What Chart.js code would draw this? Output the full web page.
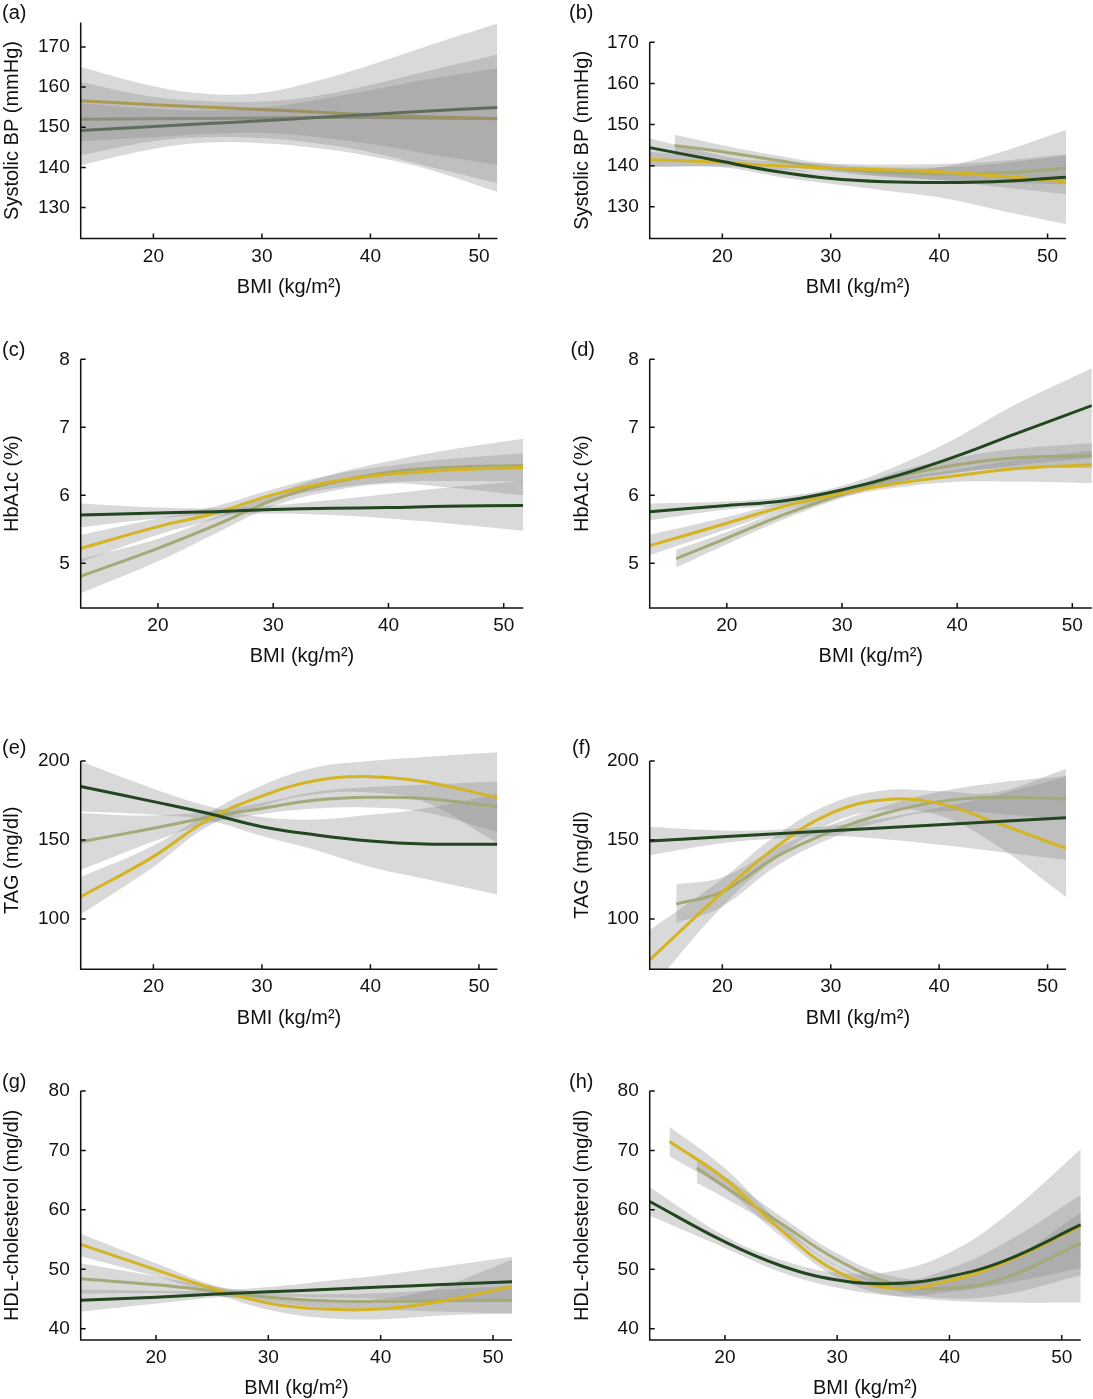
<!DOCTYPE html>
<html>
<head>
<meta charset="utf-8">
<script src="https://cdn.jsdelivr.net/npm/chart.js@4.4.1/dist/chart.umd.min.js"></script>
<style>
html,body{margin:0;padding:0;background:#fff;}
body{width:1093px;height:1399px;position:relative;overflow:hidden;}
canvas{position:absolute;}
</style>
</head>
<body>
<canvas id="ca"></canvas><canvas id="cb"></canvas>
<canvas id="cc"></canvas><canvas id="cd"></canvas>
<canvas id="ce"></canvas><canvas id="cf"></canvas>
<canvas id="cg"></canvas><canvas id="ch"></canvas>
<script>
// ---------------- data ----------------
const X_TICKS = [20, 30, 40, 50];
const BP_TICKS = [130, 140, 150, 160, 170];
const HBA1C_TICKS = [5, 6, 7, 8];
const TAG_TICKS = [100, 150, 200];
const HDL_TICKS = [40, 50, 60, 70, 80];
const BMI = [13.3, 20, 25, 30, 35, 40, 45, 51.7];

// (a) Systolic BP
const A_GOLD     = [156.6, 155.6, 155.0, 154.4, 153.8, 153.1, 152.6, 152.1];
const A_OLIVE    = [152.0, 152.1, 152.2, 152.3, 152.4, 152.4, 152.3, 152.2];
const A_GREEN    = [149.2, 150.2, 150.9, 151.6, 152.4, 153.2, 154.0, 154.9];
const A_GOLD_LO  = [140.6, 144.6, 146.2, 146.0, 144.8, 142.8, 139.8, 133.9];
const A_GOLD_HI  = [165.0, 160.2, 158.3, 158.6, 161.5, 165.5, 170.0, 175.8];
const A_OLIVE_LO = [143.0, 146.5, 147.5, 147.3, 146.0, 143.8, 140.5, 136.1];
const A_OLIVE_HI = [161.2, 157.6, 156.5, 156.4, 157.8, 160.5, 163.8, 168.1];
const A_GREEN_LO = [146.5, 147.5, 148.3, 148.6, 147.6, 145.8, 143.5, 140.6];
const A_GREEN_HI = [156.0, 154.6, 154.2, 154.9, 156.8, 159.2, 161.8, 164.7];

// (b) Systolic BP
const B_GREEN    = [144.4, 141.0, 138.6, 136.9, 136.1, 135.9, 136.1, 137.2];
const B_GOLD     = [141.5, 140.8, 140.0, 139.4, 139.0, 138.5, 137.6, 136.1];
const B_OLIVE_BMI = [15.6, 20, 25, 30, 35, 40, 45, 51.7];
const B_OLIVE    = [144.9, 143.4, 141.3, 139.4, 138.4, 138.0, 138.2, 139.3];
const B_GREEN_LO = [139.8, 139.6, 137.4, 135.6, 134.0, 132.3, 129.5, 125.8];
const B_GREEN_HI = [146.6, 142.4, 139.8, 138.2, 138.3, 139.6, 142.8, 148.7];
const B_GOLD_LO  = [139.7, 139.8, 139.0, 138.3, 137.5, 136.5, 135.0, 133.1];
const B_GOLD_HI  = [143.4, 141.8, 141.0, 140.5, 140.3, 140.4, 141.0, 142.8];
const B_OLIVE_LO = [142.6, 141.8, 140.2, 138.6, 137.3, 136.5, 136.0, 135.5];
const B_OLIVE_HI = [147.5, 145.0, 142.5, 140.4, 139.6, 139.6, 140.4, 142.5];

// (c) HbA1c
const C_GREEN    = [5.71, 5.74, 5.76, 5.79, 5.81, 5.82, 5.84, 5.85];
const C_GOLD     = [5.22, 5.54, 5.74, 6.01, 6.20, 6.31, 6.37, 6.41];
const C_OLIVE    = [4.81, 5.22, 5.56, 5.93, 6.18, 6.34, 6.41, 6.44];
const C_GREEN_LO = [5.53, 5.66, 5.71, 5.73, 5.71, 5.66, 5.59, 5.48];
const C_GREEN_HI = [5.88, 5.82, 5.81, 5.85, 5.93, 6.02, 6.11, 6.21];
const C_GOLD_LO  = [5.02, 5.42, 5.65, 5.93, 6.10, 6.19, 6.21, 6.20];
const C_GOLD_HI  = [5.42, 5.66, 5.84, 6.09, 6.30, 6.43, 6.53, 6.62];
const C_OLIVE_LO = [4.56, 5.03, 5.44, 5.84, 6.06, 6.17, 6.12, 6.00];
const C_OLIVE_HI = [5.06, 5.36, 5.68, 6.02, 6.30, 6.50, 6.66, 6.83];

// (d) HbA1c
const D_GREEN    = [5.76, 5.85, 5.92, 6.08, 6.30, 6.58, 6.90, 7.32];
const D_GOLD     = [5.26, 5.59, 5.84, 6.03, 6.18, 6.29, 6.39, 6.45];
const D_OLIVE_BMI = [15.6, 20, 25, 30, 35, 40, 45, 51.7];
const D_OLIVE    = [5.07, 5.37, 5.72, 6.01, 6.28, 6.45, 6.55, 6.58];
const D_GREEN_LO = [5.63, 5.79, 5.86, 6.02, 6.20, 6.33, 6.44, 6.55];
const D_GREEN_HI = [5.88, 5.91, 5.98, 6.14, 6.45, 6.85, 7.33, 7.87];
const D_GOLD_LO  = [5.12, 5.50, 5.78, 5.98, 6.12, 6.20, 6.20, 6.18];
const D_GOLD_HI  = [5.42, 5.68, 5.90, 6.08, 6.25, 6.38, 6.52, 6.66];
const D_OLIVE_LO = [4.94, 5.28, 5.65, 5.96, 6.20, 6.34, 6.40, 6.40];
const D_OLIVE_HI = [5.20, 5.46, 5.79, 6.06, 6.36, 6.55, 6.68, 6.77];

// (e) TAG
const E_GREEN    = [183.8, 174.3, 166.9, 158.4, 153.2, 149.4, 147.5, 147.3];
const E_GOLD     = [114.1, 139.5, 162.7, 177.8, 187.6, 190.1, 186.9, 176.8];
const E_OLIVE    = [148.9, 157.4, 164.3, 170.0, 175.3, 177.0, 176.2, 171.1];
const E_GREEN_LO = [168.0, 166.0, 162.5, 152.5, 143.5, 133.0, 125.5, 115.6];
const E_GREEN_HI = [199.6, 182.5, 171.5, 164.5, 163.0, 166.0, 170.0, 179.0];
const E_GOLD_LO  = [103.0, 133.0, 158.5, 171.5, 179.0, 180.0, 174.0, 148.0];
const E_GOLD_HI  = [126.5, 146.5, 167.0, 184.5, 196.0, 200.0, 202.5, 205.5];
const E_OLIVE_LO = [131.0, 149.0, 160.5, 166.5, 170.0, 170.5, 167.5, 155.0];
const E_OLIVE_HI = [167.0, 165.5, 168.0, 173.5, 180.5, 183.5, 185.0, 187.0];

// (f) TAG
const F_GREEN    = [149.4, 152.0, 153.9, 155.8, 157.7, 159.6, 161.5, 164.1];
const F_GOLD     = [74.1, 116.9, 145.8, 166.9, 175.5, 173.2, 161.6, 144.7];
const F_OLIVE_BMI = [15.75, 20, 25, 30, 35, 40, 45, 51.7];
const F_OLIVE    = [109.5, 117.3, 139.5, 155.3, 166.9, 174.3, 177.0, 176.0];
const F_GREEN_LO = [140.5, 148.0, 151.0, 152.5, 150.5, 147.0, 143.0, 137.3];
const F_GREEN_HI = [158.4, 156.0, 156.5, 159.0, 164.0, 170.5, 178.0, 190.0];
const F_GOLD_LO  = [55.0, 108.0, 138.5, 160.5, 169.0, 165.5, 148.0, 114.0];
const F_GOLD_HI  = [93.0, 125.5, 153.0, 173.0, 181.5, 181.0, 180.0, 195.0];
const F_OLIVE_LO = [97.5, 108.0, 133.5, 151.0, 162.0, 168.0, 167.0, 163.0];
const F_OLIVE_HI = [122.0, 126.5, 145.0, 159.5, 171.5, 180.5, 186.0, 190.5];

// (g) HDL-cholesterol
const G_GREEN    = [44.8, 45.3, 45.8, 46.2, 46.6, 47.0, 47.4, 47.9];
const G_GOLD     = [54.2, 49.9, 46.8, 44.3, 43.3, 43.3, 44.5, 47.1];
const G_OLIVE    = [48.4, 47.4, 46.4, 45.3, 44.7, 44.6, 44.7, 44.8];
const G_GREEN_LO = [42.9, 44.2, 45.2, 45.4, 45.2, 45.0, 44.8, 44.5];
const G_GREEN_HI = [46.6, 46.4, 46.4, 47.0, 48.0, 49.0, 50.3, 52.1];
const G_GOLD_LO  = [52.2, 48.8, 46.0, 43.2, 41.8, 41.6, 42.2, 42.6];
const G_GOLD_HI  = [56.0, 51.0, 47.4, 45.4, 44.8, 45.0, 46.8, 51.6];
const G_OLIVE_LO = [45.9, 46.0, 45.6, 44.5, 43.6, 43.2, 42.9, 42.5];
const G_OLIVE_HI = [51.0, 48.8, 47.2, 46.1, 45.8, 46.0, 46.5, 47.2];

// (h) HDL-cholesterol
const H_GREEN    = [61.4, 54.6, 50.6, 48.2, 47.6, 48.8, 51.5, 57.5];
const H_GOLD_BMI = [15.06, 20, 25, 30, 35, 40, 45, 51.7];
const H_GOLD     = [71.5, 65.2, 56.6, 49.6, 46.8, 48.1, 51.2, 57.3];
const H_OLIVE_BMI = [17.5, 20, 25, 30, 35, 40, 45, 51.7];
const H_OLIVE    = [67.0, 63.9, 57.7, 51.6, 47.6, 46.8, 48.6, 54.4];
const H_GREEN_LO = [59.0, 53.6, 49.5, 46.9, 45.5, 44.7, 44.4, 44.4];
const H_GREEN_HI = [63.8, 55.6, 51.6, 49.4, 49.7, 52.8, 59.0, 70.2];
const H_GOLD_LO  = [69.0, 63.5, 55.5, 48.6, 45.6, 46.2, 47.6, 50.2];
const H_GOLD_HI  = [74.0, 67.0, 57.7, 50.6, 48.0, 50.1, 54.5, 62.5];
const H_OLIVE_LO = [64.5, 62.0, 56.5, 50.5, 46.6, 45.1, 45.8, 49.0];
const H_OLIVE_HI = [68.5, 65.6, 58.9, 52.7, 48.8, 48.5, 51.2, 59.5];

// ---------------- style ----------------
const FONT = '"Liberation Sans", Arial, Helvetica, sans-serif';
const TICK_SIZE = 19, TITLE_SIZE = 20, LABEL_SIZE = 20;
const GOLD = '#d5b421', OLIVE = '#a4a977', GREEN = '#22461f';
const BAND = 'rgba(128,128,128,0.3)';
const X_TITLE = 'BMI (kg/m²)';

function S(color, x, y, lo, hi){ return {color, x, y, lo, hi}; }

const PANELS = [
  {id:'ca', label:'(a)', yTitle:'Systolic BP (mmHg)', yTicks:BP_TICKS, yMin:122.3, yMax:176.1, axisTop:176.1, bandsOver:true,
   series:[S(GREEN,BMI,A_GREEN,A_GREEN_LO,A_GREEN_HI), S(GOLD,BMI,A_GOLD,A_GOLD_LO,A_GOLD_HI), S(OLIVE,BMI,A_OLIVE,A_OLIVE_LO,A_OLIVE_HI)],
   geo:{L:0,T:0,W:550,H:310,axL:80.7,axR:497.4,axBot:238.5,yMaxPix:17.3,yTitleX:12.3,xTitleY:287.8,labX:2,labY:13.3}},
  {id:'cb', label:'(b)', yTitle:'Systolic BP (mmHg)', yTicks:BP_TICKS, yMin:122.3, yMax:170, axisTop:170,
   series:[S(GREEN,BMI,B_GREEN,B_GREEN_LO,B_GREEN_HI), S(GOLD,BMI,B_GOLD,B_GOLD_LO,B_GOLD_HI), S(OLIVE,B_OLIVE_BMI,B_OLIVE,B_OLIVE_LO,B_OLIVE_HI)],
   geo:{L:550,T:0,W:543,H:310,axL:649.7,axR:1066,axBot:238.5,yMaxPix:42.3,yTitleX:582.5,xTitleY:287.3,labX:569,labY:13.3}},
  {id:'cc', label:'(c)', yTitle:'HbA1c (%)', yTicks:HBA1C_TICKS, yMin:4.343, yMax:8, axisTop:8,
   series:[S(GREEN,BMI,C_GREEN,C_GREEN_LO,C_GREEN_HI), S(GOLD,BMI,C_GOLD,C_GOLD_LO,C_GOLD_HI), S(OLIVE,BMI,C_OLIVE,C_OLIVE_LO,C_OLIVE_HI)],
   geo:{L:0,T:320,W:550,H:360,axL:80.7,axR:523.3,axBot:608,yMaxPix:359.3,yTitleX:12.3,xTitleY:656.7,labX:2,labY:350}},
  {id:'cd', label:'(d)', yTitle:'HbA1c (%)', yTicks:HBA1C_TICKS, yMin:4.343, yMax:8, axisTop:8,
   series:[S(GREEN,BMI,D_GREEN,D_GREEN_LO,D_GREEN_HI), S(GOLD,BMI,D_GOLD,D_GOLD_LO,D_GOLD_HI), S(OLIVE,D_OLIVE_BMI,D_OLIVE,D_OLIVE_LO,D_OLIVE_HI)],
   geo:{L:550,T:320,W:543,H:360,axL:649.7,axR:1091.9,axBot:608,yMaxPix:359.3,yTitleX:582.5,xTitleY:656.7,labX:570.5,labY:350}},
  {id:'ce', label:'(e)', yTitle:'TAG (mg/dl)', yTicks:TAG_TICKS, yMin:68.2, yMax:206, axisTop:200,
   series:[S(GREEN,BMI,E_GREEN,E_GREEN_LO,E_GREEN_HI), S(GOLD,BMI,E_GOLD,E_GOLD_LO,E_GOLD_HI), S(OLIVE,BMI,E_OLIVE,E_OLIVE_LO,E_OLIVE_HI)],
   geo:{L:0,T:690,W:550,H:350,axL:80.7,axR:497.4,axBot:969.3,yMaxPix:751.5,yTitleX:12.3,xTitleY:1018.3,labX:2,labY:748.3}},
  {id:'cf', label:'(f)', yTitle:'TAG (mg/dl)', yTicks:TAG_TICKS, yMin:68.2, yMax:200, axisTop:200,
   series:[S(GREEN,BMI,F_GREEN,F_GREEN_LO,F_GREEN_HI), S(GOLD,BMI,F_GOLD,F_GOLD_LO,F_GOLD_HI), S(OLIVE,F_OLIVE_BMI,F_OLIVE,F_OLIVE_LO,F_OLIVE_HI)],
   geo:{L:550,T:690,W:543,H:350,axL:649.7,axR:1066,axBot:969.3,yMaxPix:761,yTitleX:582.5,xTitleY:1018.3,labX:572,labY:748.3}},
  {id:'cg', label:'(g)', yTitle:'HDL-cholesterol (mg/dl)', yTicks:HDL_TICKS, yMin:38.1, yMax:80, axisTop:80,
   series:[S(GREEN,BMI,G_GREEN,G_GREEN_LO,G_GREEN_HI), S(GOLD,BMI,G_GOLD,G_GOLD_LO,G_GOLD_HI), S(OLIVE,BMI,G_OLIVE,G_OLIVE_LO,G_OLIVE_HI)],
   geo:{L:0,T:1050,W:550,H:352,axL:80.7,axR:512.1,axBot:1340,yMaxPix:1091,yTitleX:12.3,xTitleY:1388.3,labX:2,labY:1082.3}},
  {id:'ch', label:'(h)', yTitle:'HDL-cholesterol (mg/dl)', yTicks:HDL_TICKS, yMin:38.1, yMax:80, axisTop:80,
   series:[S(GREEN,BMI,H_GREEN,H_GREEN_LO,H_GREEN_HI), S(GOLD,H_GOLD_BMI,H_GOLD,H_GOLD_LO,H_GOLD_HI), S(OLIVE,H_OLIVE_BMI,H_OLIVE,H_OLIVE_LO,H_OLIVE_HI)],
   geo:{L:550,T:1050,W:543,H:352,axL:649.7,axR:1080.8,axBot:1340,yMaxPix:1091,yTitleX:582.5,xTitleY:1388.3,labX:569,labY:1082}}
];

const X_MIN = 13.3, X_MAX = 51.7;

function pts(xs, ys){ return xs.map((x, i) => ({x: x, y: ys[i]})); }

function buildDatasets(p){
  const lines = [], bands = [];
  p.series.forEach(s => {
    lines.push({data: pts(s.x, s.y), borderColor: s.color, borderWidth: 3, fill: false,
      pointRadius: 0, tension: 0.4, borderCapStyle: 'butt'});
    bands.push({data: pts(s.x, s.hi), borderColor: 'transparent', borderWidth: 0,
      backgroundColor: BAND, fill: '+1', pointRadius: 0, tension: 0.4});
    bands.push({data: pts(s.x, s.lo), borderColor: 'transparent', borderWidth: 0,
      fill: false, pointRadius: 0, tension: 0.4});
  });
  return p.bandsOver ? bands.concat(lines) : lines.concat(bands);
}

const axesPlugin = {
  id: 'axesPlugin',
  afterDraw(chart, args, o) {
    const {ctx, chartArea: a} = chart;
    const x = chart.scales.x, y = chart.scales.y;
    ctx.save();
    ctx.strokeStyle = '#111';
    ctx.lineWidth = 1.5;
    ctx.beginPath();
    ctx.moveTo(a.left - 0.75, a.bottom);
    ctx.lineTo(a.right, a.bottom);
    ctx.moveTo(a.left, a.bottom);
    ctx.lineTo(a.left, y.getPixelForValue(o.axisTop));
    X_TICKS.forEach(v => { const px = x.getPixelForValue(v); ctx.moveTo(px, a.bottom); ctx.lineTo(px, a.bottom - 5); });
    o.yTicks.forEach(v => { const py = y.getPixelForValue(v); ctx.moveTo(a.left, py); ctx.lineTo(a.left + 5, py); });
    ctx.stroke();
    ctx.fillStyle = '#111';
    ctx.font = LABEL_SIZE + 'px ' + FONT;
    ctx.textAlign = 'left';
    ctx.textBaseline = 'middle';
    ctx.fillText(o.label, o.labX, o.labY);
    ctx.restore();
  }
};

PANELS.forEach(p => {
  const g = p.geo;
  const cv = document.getElementById(p.id);
  cv.style.left = g.L + 'px';
  cv.style.top = g.T + 'px';
  cv.width = g.W; cv.height = g.H;
  cv.style.width = g.W + 'px'; cv.style.height = g.H + 'px';
  const half = TITLE_SIZE * 1.2 / 2;
  const padLeft = Math.max(0, g.yTitleX - g.L - half);
  const padTop = g.yMaxPix - g.T;
  const padRight = g.L + g.W - g.axR;
  const padBottom = Math.max(0, g.T + g.H - (g.xTitleY + half));
  const yWidth = g.axL - g.L - padLeft;
  const xHeight = g.T + g.H - padBottom - g.axBot;
  new Chart(cv, {
    type: 'line',
    data: {datasets: buildDatasets(p)},
    options: {
      responsive: false, animation: false, events: [],
      layout: {padding: {left: padLeft, top: padTop, right: padRight, bottom: padBottom}},
      scales: {
        x: {type: 'linear', min: X_MIN, max: X_MAX,
            grid: {display: false, drawTicks: false}, border: {display: false},
            afterBuildTicks: s => { s.ticks = X_TICKS.map(v => ({value: v})); },
            ticks: {font: {size: TICK_SIZE, family: FONT}, color: '#111', padding: 6.5, maxRotation: 0, autoSkip: false},
            title: {display: true, text: X_TITLE, font: {size: TITLE_SIZE, family: FONT}, color: '#111', padding: 0},
            afterFit: s => { s.height = xHeight; }},
        y: {type: 'linear', min: p.yMin, max: p.yMax,
            grid: {display: false, drawTicks: false}, border: {display: false},
            afterBuildTicks: s => { s.ticks = p.yTicks.map(v => ({value: v})); },
            ticks: {font: {size: TICK_SIZE, family: FONT}, color: '#111', padding: 11, autoSkip: false},
            title: {display: true, text: p.yTitle, font: {size: TITLE_SIZE, family: FONT}, color: '#111', padding: 0},
            afterFit: s => { s.width = yWidth; }}
      },
      plugins: {
        legend: {display: false}, tooltip: {enabled: false},
        axesPlugin: {axisTop: p.axisTop, yTicks: p.yTicks, label: p.label, labX: g.labX - g.L, labY: g.labY - g.T}
      }
    },
    plugins: [axesPlugin]
  });
});
</script>
</body>
</html>
